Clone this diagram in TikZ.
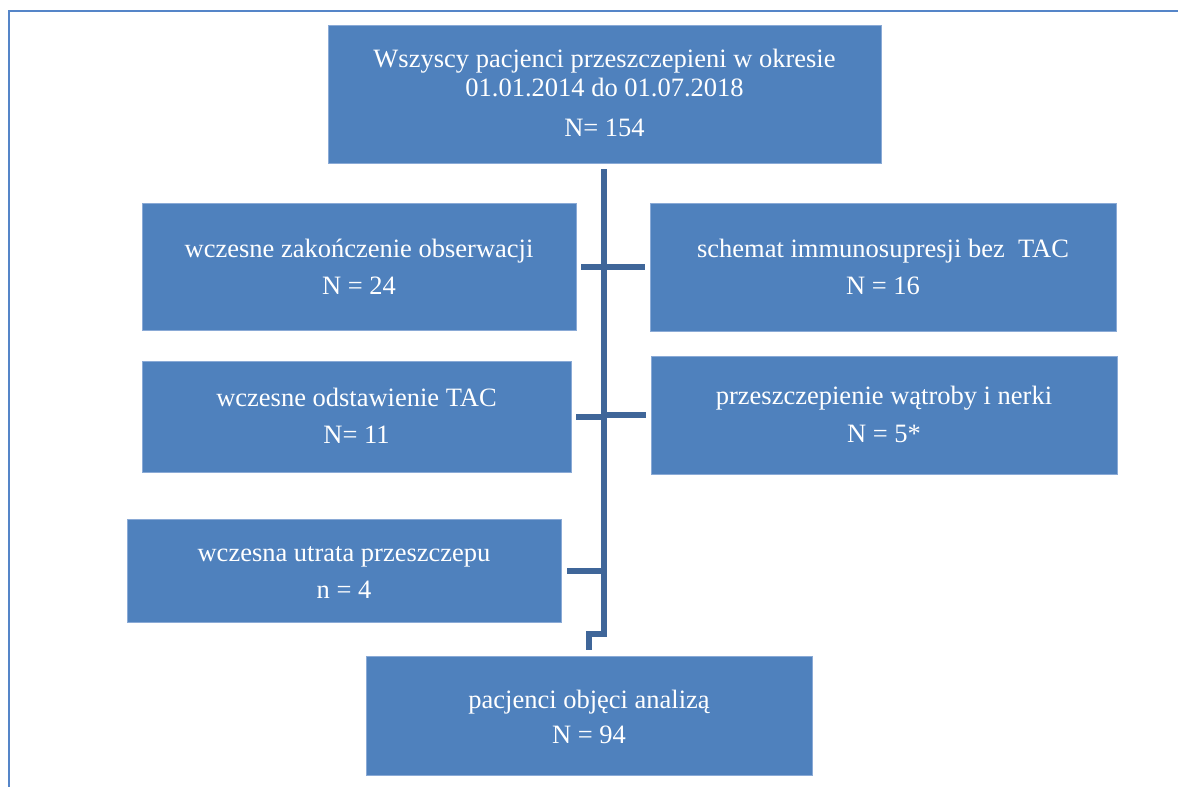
\documentclass[tikz,border=0pt]{standalone}
\usepackage{fontspec}
\setmainfont{Liberation Serif}
\usetikzlibrary{calc}
\definecolor{boxblue}{HTML}{4F81BD}
\definecolor{boxedge}{HTML}{8AAAD6}
\definecolor{linkblue}{HTML}{3F6699}
\definecolor{framecol}{HTML}{5585C8}
\begin{document}
\begin{tikzpicture}[x=1pt,y=-1pt,
  box/.style={rectangle, fill=boxblue, draw=boxedge, line width=0.8pt, inner sep=0pt},
  txt/.style={anchor=base, text=white, inner sep=0pt, font=\fontsize{26.5}{32}\selectfont},
  link/.style={draw=linkblue, line width=6pt, line cap=butt},
  frameline/.style={draw=framecol, line width=2pt}]
\useasboundingbox (0,0) rectangle (1178,787);
% frame
\draw[frameline] (9,787) -- (9,11) -- (1178,11);
% boxes
\node[box, minimum width=553pt, minimum height=138pt] (top) at (604.5,94) {};
\node[box, minimum width=434pt, minimum height=127pt] (l1) at (359,266.5) {};
\node[box, minimum width=466pt, minimum height=128pt] (r1) at (883,267) {};
\node[box, minimum width=429pt, minimum height=111pt] (l2) at (356.5,416.5) {};
\node[box, minimum width=466pt, minimum height=118pt] (r2) at (884,415) {};
\node[box, minimum width=434pt, minimum height=103pt] (l3) at (344,570.5) {};
\node[box, minimum width=446pt, minimum height=119pt] (bot) at (589,715.5) {};
% texts
\node[txt] (topa) at (604.5,67) {Wszyscy pacjenci przeszczepieni w okresie};
\node[txt] (topb) at (604.5,96) {01.01.2014 do 01.07.2018};
\node[txt] (topc) at (604.5,136) {N= 154};
\node[txt] (l1a) at (359,257) {wczesne zakończenie obserwacji};
\node[txt] (l1b) at (359,294) {N = 24};
\node[txt] (r1a) at (883,257) {schemat immunosupresji bez\ \ TAC};
\node[txt] (r1b) at (883,294) {N = 16};
\node[txt] (l2a) at (356.5,406) {wczesne odstawienie TAC};
\node[txt] (l2b) at (356.5,443) {N= 11};
\node[txt] (r2a) at (884,404) {przeszczepienie wątroby i nerki};
\node[txt] (r2b) at (884,442) {N = 5*};
\node[txt] (l3a) at (344,561) {wczesna utrata przeszczepu};
\node[txt] (l3b) at (344,598) {n = 4};
\node[txt] (bota) at (589,708) {pacjenci objęci analizą};
\node[txt] (botb) at (589,743) {N = 94};
% connector coordinates
\coordinate (s0) at ($(top.south)+(-0.5,6)$);
\coordinate (s1) at (604,634);
\coordinate (s2) at (589,634);
\coordinate (s3) at ($(bot.north)+(0,-6)$);
\coordinate (j1) at (604,267);
\coordinate (j2a) at (604,417);
\coordinate (j2b) at (604,415);
\coordinate (j3) at (604,571);
% spine
\draw[link] (s0) -- (s1) -- (s2) -- (s3);
% side bars
\draw[link] ($(l1.east|-j1)+(5,0)$) -- ($(r1.west|-j1)+(-5,0)$);
\draw[link] ($(l2.east|-j2a)+(5,0)$) -- (j2a);
\draw[link] (j2b) -- ($(r2.west|-j2b)+(-5,0)$);
\draw[link] ($(l3.east|-j3)+(6,0)$) -- (j3);
\end{tikzpicture}
\end{document}
